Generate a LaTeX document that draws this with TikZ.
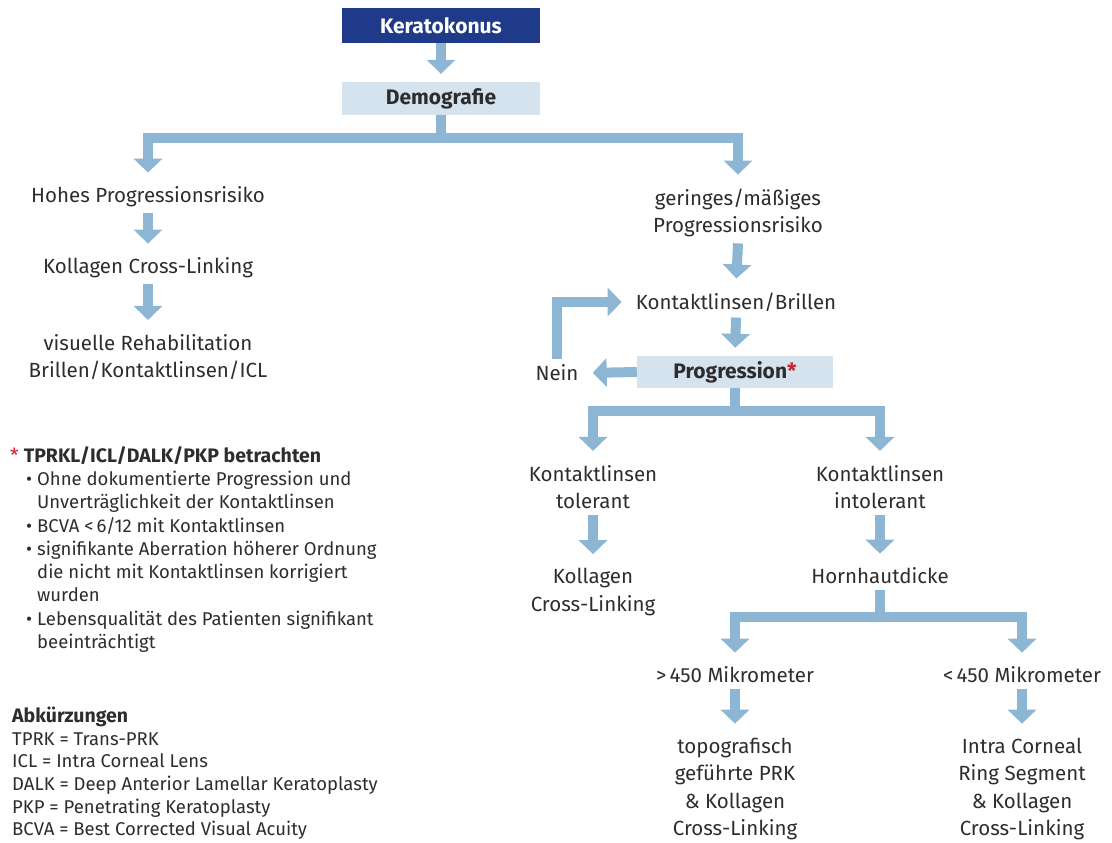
\documentclass[tikz,border=0pt]{standalone}
\usepackage{fontspec}
\setmainfont{Fira Sans}
\usepackage{tikz}
\usetikzlibrary{arrows.meta,positioning}

\definecolor{darkblue}{RGB}{31,58,136}
\definecolor{paleblue}{RGB}{213,227,239}
\definecolor{flowblue}{RGB}{141,182,212}
\definecolor{inktext}{RGB}{45,45,45}
\definecolor{starred}{RGB}{208,32,46}

\newcommand{\bulletitem}{\makebox[27pt][r]{\textbullet\hspace{5pt}}}
\newcommand{\bulletcont}{\hspace*{27pt}}

\begin{document}
\begin{tikzpicture}[x=1pt, y=-1pt]
			\tikzstyle{Title}	= [fill=darkblue, text=white, font=\fontsize{21}{24}\selectfont\bfseries, minimum width=198pt, minimum height=35pt, inner sep=0pt]
			\tikzstyle{Box}		= [fill=paleblue, text=inktext, font=\fontsize{21}{24}\selectfont\bfseries, minimum width=198pt, minimum height=33pt, inner sep=0pt]
			\tikzstyle{Info}	= [text=inktext, font=\fontsize{20.5}{27.5}\selectfont, align=center, inner sep=6pt]
			\tikzstyle{Note}	= [text=inktext, font=\fontsize{18.5}{23.3}\selectfont, align=left, inner sep=0pt, anchor=north west]
			\tikzstyle{Bar}		= [line width=10pt, flowblue]
			\tikzstyle{Flow}	= [Bar, -{Triangle[width=28pt,length=14pt]}, shorten >=8pt]
			
			\useasboundingbox (0, 0) rectangle (1112, 843);
			
			% top of the tree
			\node (kerato) at (441, 25.5) [Title] {Keratokonus};
			\node (demo) at (441, 98.5) [Box] {Demografie};
			
			% left branch
			\node (hohes) at (148, 197) [Info] {Hohes Progressionsrisiko};
			\node (kollL) at (148, 268) [Info] {Kollagen Cross-Linking};
			\node (visuell) at (148, 357) [Info] {visuelle Rehabilitation\\Brillen/Kontaktlinsen/ICL};
			
			% right branch
			\node (gering) at (738, 213) [Info] {geringes/mäßiges\\Progressionsrisiko};
			\node (kontakt) at (736, 302) [Info] {Kontaktlinsen/Brillen};
			\node (progr) at (735, 372) [Box][minimum width=196pt, minimum height=32pt] {Progression\textcolor{starred}{*}};
			\node (nein) at (557, 373) [Info] {Nein};
			\node (tol) at (593, 487) [Info] {Kontaktlinsen\\tolerant};
			\node (kollT) at (593, 592) [Info] {Kollagen\\Cross-Linking};
			\node (intol) at (880, 487) [Info] {Kontaktlinsen\\intolerant};
			\node (horn) at (880, 576) [Info] {Hornhautdicke};
			\node (gt) at (735, 675) [Info] {>\,450 Mikrometer};
			\node (lt) at (1022, 675) [Info] {<\,450 Mikrometer};
			\node (topo) at (735, 789) [Info] {topografisch\\geführte PRK\\\&\ Kollagen\\Cross-Linking};
			\node (ring) at (1022, 789) [Info] {Intra Corneal\\Ring Segment\\\&\ Kollagen\\Cross-Linking};
			
			% junctions of the split arrows
			\coordinate (jDemo) at (441, 138);
			\coordinate (jProgr) at (735, 411);
			\coordinate (jHorn) at (880, 617);
			
			% notes
			\node (notes) at (10, 446) [Note] {{\fontsize{19.5}{23.3}\selectfont\textcolor{starred}{*}\hspace{5pt}\textbf{TPRKL/ICL/DALK/PKP betrachten}}\\
				\bulletitem Ohne dokumentierte Progression und\\
				\bulletcont Unverträglichkeit der Kontaktlinsen\\
				\bulletitem BCVA <\,6/12 mit Kontaktlinsen\\
				\bulletitem signifikante Aberration höherer Ordnung\\
				\bulletcont die nicht mit Kontaktlinsen korrigiert\\
				\bulletcont wurden\\
				\bulletitem Lebensqualität des Patienten signifikant\\
				\bulletcont beeinträchtigt};
			\node (abbr) at (12, 707) [Note][font=\fontsize{18.5}{22.6}\selectfont] {{\fontsize{19.5}{22.6}\selectfont\textbf{Abkürzungen}}\\
				TPRK = Trans-PRK\\
				ICL = Intra Corneal Lens\\
				DALK = Deep Anterior Lamellar Keratoplasty\\
				PKP = Penetrating Keratoplasty\\
				BCVA = Best Corrected Visual Acuity};
			
			\draw (kerato.south) to (demo.north) [Flow];
			\draw (demo.south) -- (jDemo) [Bar];
			\draw (jDemo) -| (hohes.north) [Flow];
			\draw (jDemo) -| (gering.north) [Flow];
			
			\draw (hohes.south) to (kollL.north) [Flow];
			\draw (kollL.south) to (visuell.north) [Flow];
			
			\draw (gering.south) to (kontakt.north) [Flow];
			\draw (kontakt.south) to (progr.north) [Flow];
			\draw (progr.west) to (nein.east) [Flow];
			\draw (nein.north) |- (kontakt.west) [Flow];
			
			\draw (progr.south) -- (jProgr) [Bar];
			\draw (jProgr) -| (tol.north) [Flow];
			\draw (jProgr) -| (intol.north) [Flow];
			\draw (tol.south) to (kollT.north) [Flow];
			\draw (intol.south) to (horn.north) [Flow];
			
			\draw (horn.south) -- (jHorn) [Bar];
			\draw (jHorn) -| (gt.north) [Flow];
			\draw (jHorn) -| (lt.north) [Flow];
			\draw (gt.south) to (topo.north) [Flow];
			\draw (lt.south) to (ring.north) [Flow];
		\end{tikzpicture}
\end{document}
